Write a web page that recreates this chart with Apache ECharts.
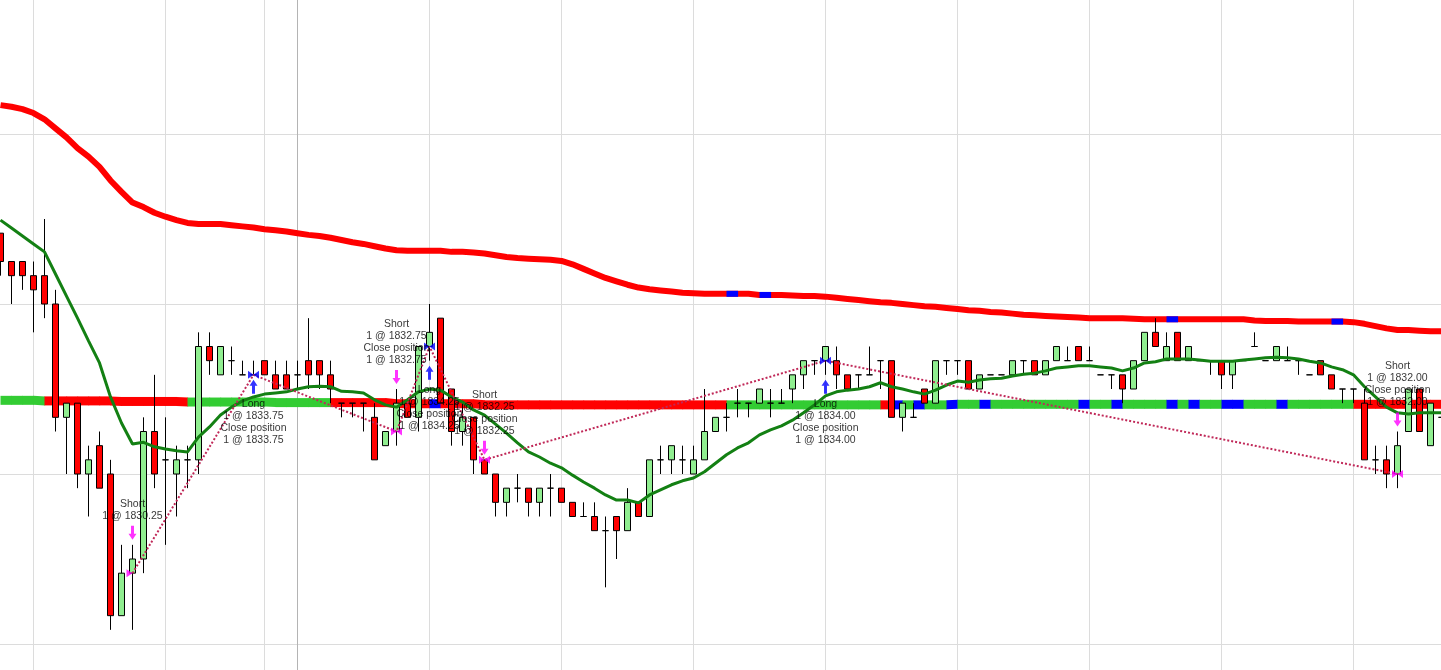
<!DOCTYPE html>
<html><head><meta charset="utf-8">
<script src="https://cdn.jsdelivr.net/npm/echarts@6/dist/echarts.min.js"></script>
<style>html,body{margin:0;padding:0;background:#fff;overflow:hidden}#c{position:absolute;left:-5px;top:0;width:1452px;height:670px}</style>
</head><body><div id="c"></div>
<script>
// ---- price bars (one per category) ----
const opens = [1836.25,1835.75,1835.75,1835.5,1835.5,1835.0,1833.0,1833.25,1832.0,1832.5,1832.0,1829.5,1830.25,1830.5,1832.75,1832.25,1832.0,1832.25,1832.25,1834.25,1833.75,1834.0,1833.75,1833.75,1834.0,1833.75,1833.75,1833.75,1834.0,1834.0,1833.75,1833.25,1833.25,1833.25,1833.0,1832.5,1832.75,1833.25,1833.0,1834.25,1834.75,1833.5,1832.75,1833.0,1832.25,1832.0,1831.5,1831.75,1831.75,1831.5,1831.75,1831.75,1831.5,1831.25,1831.25,1831.0,1831.25,1831.0,1831.5,1831.25,1832.25,1832.25,1832.25,1832.0,1832.25,1832.75,1833.0,1833.25,1833.25,1833.25,1833.25,1833.25,1833.5,1833.75,1834.0,1834.0,1834.0,1833.75,1833.75,1833.75,1834.0,1834.0,1833.0,1833.0,1833.5,1833.25,1834.0,1834.0,1834.0,1833.5,1833.75,1833.75,1833.75,1834.0,1834.0,1833.75,1834.0,1834.0,1834.25,1834.0,1833.75,1833.75,1833.75,1833.5,1834.0,1834.5,1834.0,1834.5,1834.0,1834.0,1834.0,1834.0,1833.75,1834.0,1834.25,1834.0,1834.0,1834.0,1834.0,1833.75,1834.0,1833.75,1833.5,1833.5,1833.25,1832.25,1832.25,1832.0,1832.75,1833.5,1832.5,1833.0];
const closes = [1835.75,1835.5,1835.5,1835.25,1835.0,1833.0,1833.25,1832.0,1832.25,1831.75,1829.5,1830.25,1830.5,1832.75,1832.0,1832.25,1832.25,1832.25,1834.25,1834.0,1834.25,1834.0,1833.75,1833.75,1833.75,1833.5,1833.5,1833.75,1833.75,1833.75,1833.5,1833.25,1833.25,1833.25,1832.25,1832.75,1833.25,1833.0,1834.25,1834.5,1833.25,1832.75,1833.0,1832.25,1832.0,1831.5,1831.75,1831.75,1831.5,1831.75,1831.75,1831.5,1831.25,1831.25,1831.0,1831.0,1831.0,1831.5,1831.25,1832.25,1832.25,1832.5,1832.25,1832.25,1832.75,1833.0,1833.0,1833.25,1833.25,1833.5,1833.25,1833.25,1833.75,1834.0,1834.0,1834.25,1833.75,1833.5,1833.75,1833.75,1834.0,1833.0,1833.25,1833.0,1833.25,1834.0,1834.0,1834.0,1833.5,1833.75,1833.75,1833.75,1834.0,1834.0,1833.75,1834.0,1834.25,1834.0,1834.0,1834.0,1833.75,1833.75,1833.5,1834.0,1834.5,1834.25,1834.25,1834.0,1834.25,1834.0,1834.0,1833.75,1834.0,1834.0,1834.25,1834.0,1834.25,1834.0,1834.0,1833.75,1833.75,1833.5,1833.5,1833.5,1832.25,1832.25,1832.0,1832.5,1833.5,1832.75,1833.25,1833.0];
const lows = [1835.5,1835.0,1835.25,1834.5,1834.75,1832.75,1832.0,1831.75,1831.25,1831.75,1829.25,1829.5,1829.25,1830.25,1831.75,1830.75,1831.25,1831.75,1832.0,1833.75,1833.75,1833.75,1833.75,1833.75,1833.75,1833.5,1833.5,1833.5,1833.5,1833.5,1833.25,1833.0,1833.0,1832.75,1832.25,1832.5,1832.5,1833.0,1832.75,1834.0,1833.25,1832.5,1832.5,1832.0,1832.0,1831.25,1831.25,1831.5,1831.25,1831.25,1831.25,1831.5,1831.25,1831.25,1831.0,1830.0,1830.5,1831.0,1831.25,1831.25,1832.0,1832.0,1832.0,1832.0,1832.25,1832.75,1832.75,1833.0,1833.0,1833.25,1833.0,1833.25,1833.25,1833.5,1833.75,1833.75,1833.5,1833.5,1833.5,1833.75,1833.5,1833.0,1832.75,1833.0,1833.25,1833.25,1833.75,1833.75,1833.5,1833.5,1833.75,1833.75,1833.75,1833.75,1833.75,1833.75,1834.0,1834.0,1834.0,1834.0,1833.75,1833.5,1833.25,1833.5,1834.0,1834.25,1834.0,1834.0,1834.0,1834.0,1833.75,1833.5,1833.5,1834.0,1834.25,1834.0,1834.0,1834.0,1833.75,1833.75,1833.75,1833.5,1833.25,1833.25,1832.25,1832.0,1831.75,1831.75,1832.75,1832.75,1832.5,1833.0];
const highs = [1836.25,1835.75,1835.75,1835.75,1836.5,1835.25,1833.25,1833.25,1832.5,1832.75,1832.25,1830.75,1830.75,1833.0,1833.75,1833.0,1832.5,1832.5,1834.5,1834.5,1834.25,1834.25,1834.0,1834.0,1834.0,1834.0,1834.0,1834.0,1834.75,1834.0,1834.0,1833.25,1833.25,1833.25,1833.25,1832.75,1833.5,1833.25,1834.25,1835.0,1834.75,1833.5,1833.25,1833.0,1832.25,1832.0,1831.75,1832.0,1831.75,1831.75,1832.0,1831.75,1831.5,1831.5,1831.5,1831.25,1831.25,1831.75,1831.5,1832.25,1832.5,1832.5,1832.5,1832.5,1833.5,1833.0,1833.25,1833.5,1833.25,1833.5,1833.5,1833.5,1833.75,1834.0,1834.0,1834.25,1834.25,1833.75,1833.75,1834.25,1834.0,1834.0,1833.25,1833.25,1833.5,1834.0,1834.0,1834.0,1834.0,1833.75,1833.75,1833.75,1834.0,1834.0,1834.0,1834.0,1834.25,1834.25,1834.25,1834.25,1833.75,1833.75,1833.75,1834.0,1834.5,1834.75,1834.5,1834.5,1834.25,1834.0,1834.0,1834.0,1834.0,1834.0,1834.5,1834.0,1834.25,1834.25,1834.0,1833.75,1834.0,1833.75,1833.5,1833.5,1833.5,1832.5,1832.5,1832.75,1833.5,1833.5,1833.25,1833.0];

// ---- indicators ----
const fastMA = [1836.48,1836.34,1836.20,1836.06,1835.92,1835.53,1835.14,1834.75,1834.35,1833.96,1833.36,1832.90,1832.53,1832.56,1832.48,1832.44,1832.41,1832.39,1832.65,1832.83,1833.04,1833.18,1833.29,1833.36,1833.41,1833.43,1833.45,1833.50,1833.54,1833.55,1833.54,1833.46,1833.45,1833.43,1833.31,1833.22,1833.18,1833.31,1833.45,1833.50,1833.48,1833.36,1833.27,1833.13,1833.04,1832.88,1832.72,1832.55,1832.39,1832.30,1832.19,1832.11,1831.98,1831.86,1831.75,1831.63,1831.54,1831.54,1831.49,1831.63,1831.72,1831.81,1831.88,1831.93,1832.04,1832.19,1832.34,1832.46,1832.55,1832.69,1832.78,1832.85,1832.95,1833.08,1833.22,1833.38,1833.45,1833.48,1833.50,1833.54,1833.61,1833.54,1833.50,1833.45,1833.41,1833.48,1833.57,1833.64,1833.62,1833.66,1833.68,1833.69,1833.73,1833.76,1833.78,1833.82,1833.87,1833.89,1833.91,1833.91,1833.89,1833.87,1833.82,1833.87,1833.96,1833.98,1834.03,1834.03,1834.03,1834.01,1833.99,1833.99,1833.99,1834.01,1834.03,1834.05,1834.06,1834.05,1834.03,1833.99,1833.96,1833.89,1833.84,1833.75,1833.54,1833.36,1833.18,1833.08,1833.06,1833.08,1833.08,1833.08];
const slowMA = [1838.51,1838.48,1838.44,1838.37,1838.26,1838.10,1837.94,1837.75,1837.60,1837.42,1837.18,1836.98,1836.79,1836.71,1836.61,1836.54,1836.48,1836.43,1836.41,1836.41,1836.41,1836.39,1836.37,1836.35,1836.32,1836.30,1836.28,1836.25,1836.22,1836.20,1836.17,1836.13,1836.09,1836.06,1836.02,1835.98,1835.95,1835.94,1835.94,1835.94,1835.94,1835.92,1835.92,1835.91,1835.89,1835.86,1835.83,1835.81,1835.80,1835.79,1835.78,1835.76,1835.70,1835.62,1835.54,1835.46,1835.40,1835.34,1835.29,1835.26,1835.24,1835.22,1835.20,1835.19,1835.18,1835.18,1835.18,1835.18,1835.18,1835.16,1835.16,1835.16,1835.15,1835.14,1835.14,1835.13,1835.11,1835.09,1835.07,1835.05,1835.03,1835.02,1835.00,1834.98,1834.96,1834.95,1834.93,1834.91,1834.89,1834.88,1834.86,1834.85,1834.83,1834.81,1834.80,1834.79,1834.78,1834.77,1834.76,1834.75,1834.75,1834.75,1834.75,1834.74,1834.73,1834.73,1834.73,1834.73,1834.73,1834.73,1834.73,1834.73,1834.73,1834.73,1834.71,1834.70,1834.70,1834.70,1834.69,1834.69,1834.69,1834.69,1834.69,1834.68,1834.65,1834.61,1834.57,1834.54,1834.54,1834.53,1834.52,1834.52];
const slowMABlueSegments = [66, 69, 106, 121];
const trendLine = [1833.30,1833.30,1833.30,1833.30,1833.29,1833.29,1833.29,1833.29,1833.29,1833.29,1833.29,1833.28,1833.28,1833.28,1833.28,1833.28,1833.28,1833.27,1833.27,1833.27,1833.27,1833.27,1833.27,1833.27,1833.27,1833.26,1833.26,1833.26,1833.26,1833.26,1833.26,1833.26,1833.26,1833.26,1833.26,1833.26,1833.24,1833.24,1833.24,1833.24,1833.24,1833.24,1833.24,1833.24,1833.22,1833.22,1833.22,1833.22,1833.22,1833.22,1833.22,1833.22,1833.22,1833.22,1833.22,1833.22,1833.22,1833.22,1833.22,1833.22,1833.22,1833.22,1833.22,1833.22,1833.22,1833.22,1833.22,1833.22,1833.22,1833.22,1833.22,1833.22,1833.22,1833.22,1833.22,1833.22,1833.22,1833.22,1833.22,1833.22,1833.22,1833.22,1833.22,1833.22,1833.22,1833.22,1833.22,1833.23,1833.23,1833.23,1833.23,1833.23,1833.23,1833.23,1833.23,1833.23,1833.23,1833.23,1833.23,1833.23,1833.23,1833.23,1833.23,1833.23,1833.23,1833.23,1833.23,1833.23,1833.23,1833.23,1833.23,1833.23,1833.23,1833.23,1833.23,1833.23,1833.23,1833.23,1833.23,1833.23,1833.23,1833.23,1833.23,1833.23,1833.23,1833.23,1833.23,1833.23,1833.23,1833.23,1833.23,1833.23];
// state of each trend segment: g = up, r = down, b = neutral
const trendState = ("gggg" + "rrrrrrrrrrrrr" + "ggggggggggggg" + "rrrrrrrrr" + "b" + "rrrrrrrrrrrrrrrrrrrrrrrrrr" +
  "gggggggggggggg" + "r" + "b" + "g" + "b" + "gg" + "b" + "gg" + "b" + "gggggggg" + "b" + "gg" + "b" +
  "gggg" + "b" + "g" + "b" + "gg" + "bb" + "ggg" + "b" + "gggggg" + "rrrrrrrr").split('');

// ---- trades ----
const tradeBars = [12, 23, 36, 39, 44, 75, 127];
const tradePrices = [1830.25, 1833.75, 1832.75, 1834.25, 1832.25, 1834.00, 1832.00];
const tradeSides = ['Short', 'Long', 'Short', 'Long', 'Short', 'Long', 'Short'];
const tradeCloses = [false, true, true, true, true, true, true];

// ---- grid ----
const hGridPrices = [1829, 1832, 1835, 1838];
const vGridBars = [3, 15, 24, 27, 39, 51, 63, 75, 87, 99, 111, 123];
const vGridStrong = [27];

const Y_MAX = 1840.3647, Y_MIN = 1828.5412;
const cats = opens.map((_, i) => String(i));
const candleData = opens.map((o, i) => [o, closes[i], lows[i], highs[i]]);
const stateCode = { g: 0, r: 1, b: 2 };
const codeColor = ['#33cc33', '#ff0000', '#0000ff'];

// band piece between two bar centres, drawn as a filled parallelogram
function segRender(halfWidth) {
  return function (params, api) {
    const s = api.value(0);
    const p1 = api.coord([s, api.value(1)]);
    const p2 = api.coord([s + 1, api.value(2)]);
    const x2 = p2[0] + 0.6;
    return { type: 'polygon',
      shape: { points: [[p1[0], p1[1] - halfWidth], [x2, p2[1] - halfWidth], [x2, p2[1] + halfWidth], [p1[0], p1[1] + halfWidth]] },
      style: { fill: codeColor[api.value(3)] } };
  };
}

const trendSegs = trendState.map((c, s) => [s, trendLine[s], trendLine[s + 1], stateCode[c]]);
const blueSegs = slowMABlueSegments.map(s => [s, slowMA[s], slowMA[s + 1], 2]);

const bowtie = 'path://M0,0L5,4L0,8ZM10,0L5,4L10,8Z';
const entryTri = 'path://M0,0L5,4L0,8Z';
const upArrow = 'path://M4,0L8,6L5.5,6L5.5,14L2.5,14L2.5,6L0,6Z';
const downArrow = 'path://M2.5,0L5.5,0L5.5,8L8,8L4,14L0,8L2.5,8Z';

const markerData = tradeBars.map((b, i) => ({
  value: [b, tradePrices[i]],
  symbol: tradeCloses[i] ? bowtie : entryTri,
  symbolSize: tradeCloses[i] ? [11, 8] : [6, 8],
  symbolOffset: tradeCloses[i] ? [0, 0] : [-3, 0],
  itemStyle: { color: tradeSides[i] === 'Long' ? '#0000ff' : '#ff00ff' }
}));

const arrowData = tradeBars.map((b, i) => {
  const isLong = tradeSides[i] === 'Long';
  const p = tradePrices[i].toFixed(2);
  let txt = tradeSides[i] + '\n1 @ ' + p;
  if (tradeCloses[i]) txt += '\nClose position\n1 @ ' + p;
  return {
    value: [b, isLong ? lows[b] : highs[b]],
    symbol: isLong ? upArrow : downArrow,
    symbolSize: [8, 14],
    symbolOffset: [0, isLong ? 12 : -12],
    itemStyle: { color: isLong ? '#0000ff' : '#ff00ff' },
    label: { show: true, position: isLong ? 'bottom' : 'top', distance: 4, formatter: txt }
  };
});

const chart = echarts.init(document.getElementById('c'), null, { renderer: 'canvas' });
chart.setOption({
  animation: false,
  backgroundColor: '#ffffff',
  grid: { left: 0, right: 0, top: 0, bottom: 0, containLabel: false },
  xAxis: { type: 'category', data: cats, boundaryGap: true,
    axisLine: { show: false }, axisTick: { show: false }, axisLabel: { show: false }, splitLine: { show: false } },
  yAxis: { type: 'value', min: Y_MIN, max: Y_MAX, scale: true,
    axisLine: { show: false }, axisTick: { show: false }, axisLabel: { show: false }, splitLine: { show: false } },
  series: [
    { type: 'custom', z: 0, silent: true, data: hGridPrices.map(p => [0, p]), encode: { x: 0, y: 1 },
      renderItem: (params, api) => {
        const y = Math.floor(api.coord([0, api.value(1)])[1]) + 0.5;
        return { type: 'line', shape: { x1: 0, y1: y, x2: 1452, y2: y }, style: { stroke: '#dcdcdc', lineWidth: 1 } };
      } },
    { type: 'custom', z: 0, silent: true, data: vGridBars.map(b => [b, Y_MIN]), encode: { x: 0, y: 1 },
      renderItem: (params, api) => {
        const b = api.value(0);
        const x = Math.floor(api.coord([b, Y_MIN])[0]) + 0.5;
        return { type: 'line', shape: { x1: x, y1: 0, x2: x, y2: 670 },
          style: { stroke: vGridStrong.indexOf(b) >= 0 ? '#b4b4b4' : '#dcdcdc', lineWidth: 1 } };
      } },
    { type: 'custom', z: 1, silent: true, data: trendSegs, dimensions: ['x', 'a', 'b', 'c'],
      encode: { x: 0, y: [1, 2] }, renderItem: segRender(4.5) },
    { type: 'line', z: 1, data: slowMA, symbol: 'none', silent: true,
      lineStyle: { color: '#ff0000', width: 6, join: 'round' } },
    { type: 'custom', z: 2, silent: true, data: blueSegs, dimensions: ['x', 'a', 'b', 'c'],
      encode: { x: 0, y: [1, 2] }, renderItem: segRender(3) },
    { type: 'candlestick', z: 3, data: candleData, barWidth: 7, silent: true,
      itemStyle: { color: '#90ee90', color0: '#ff0000', borderColor: '#000000', borderColor0: '#000000',
        borderColorDoji: '#000000', borderWidth: 1 } },
    { type: 'line', z: 4, data: fastMA, symbol: 'none', silent: true,
      lineStyle: { color: '#138013', width: 3 } },
    { type: 'line', z: 5, data: tradeBars.map((b, i) => [b, tradePrices[i]]), symbol: 'none', silent: true,
      lineStyle: { color: '#c02858', width: 2, type: [2, 2] } },
    { type: 'scatter', z: 6, data: markerData, silent: true },
    { type: 'scatter', z: 7, data: arrowData, silent: true,
      label: { color: '#000000', fontSize: 10.5, lineHeight: 12, fontFamily: 'Liberation Sans, Arial, sans-serif', align: 'center' } }
  ]
});
</script>
</body></html>
